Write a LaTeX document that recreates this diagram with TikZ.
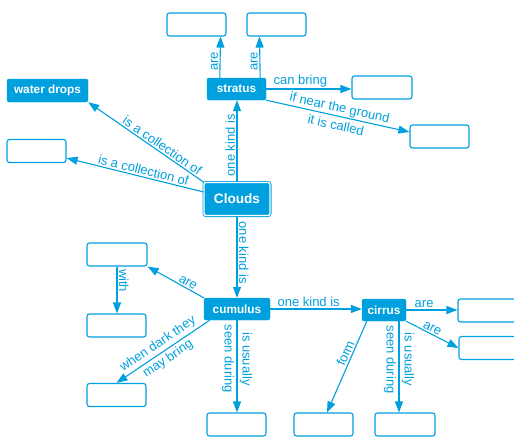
\documentclass[tikz,border=0pt]{standalone}
\usepackage{fontspec}
\setmainfont{Liberation Sans}
\usetikzlibrary{arrows.meta,calc}
\definecolor{cb}{RGB}{0,160,222}
\begin{document}
\begin{tikzpicture}[x=1pt,y=-1pt,
 ebox/.style={draw=cb, line width=1.1pt, rounded corners=2.5pt, fill=white, minimum width=59pt, minimum height=23pt, inner sep=0pt},
 fbox/.style={draw=cb, fill=cb, rounded corners=2pt, text=white, font=\fontsize{11.8}{14}\selectfont\bfseries, inner sep=0pt},
 arr/.style={draw=cb, line width=1.1pt, -{Triangle[length=11pt,width=8pt]}},
 lbl/.style={text=cb, font=\fontsize{13}{15}\selectfont, inner sep=1.5pt},
 lbltwo/.style={text=cb, font=\fontsize{13}{18}\selectfont, align=center, inner sep=0pt},
]
\useasboundingbox (0,0) rectangle (514,437);

% filled nodes
\node[fbox, minimum width=66pt, minimum height=33pt, line width=0.8pt, double=white, double distance=1.4pt, font=\fontsize{13.6}{16}\selectfont\bfseries] (clouds) at (237,199) {Clouds};
\node[fbox, minimum width=59pt, minimum height=22pt] (stratus) at (236.5,89) {stratus};
\node[fbox, minimum width=81pt, minimum height=23pt] (water) at (47.5,90.5) {water drops};
\node[fbox, minimum width=66pt, minimum height=22pt] (cumulus) at (237,309) {cumulus};
\node[fbox, minimum width=44pt, minimum height=22pt] (cirrus) at (384,310) {cirrus};

% empty boxes
\node[ebox] (boxL) at (36.5,151) {};
\node[ebox] (top1) at (196.5,24.5) {};
\node[ebox] (top2) at (276.5,24.5) {};
\node[ebox, minimum width=60pt] (bring) at (382,87.5) {};
\node[ebox] (ground) at (439.5,136.5) {};
\node[ebox, minimum width=60pt] (areA) at (488,310.5) {};
\node[ebox, minimum width=60pt] (areB) at (489,348) {};
\node[ebox] (botA) at (236.5,424.5) {};
\node[ebox] (botB) at (323.5,424.5) {};
\node[ebox, minimum width=60pt] (botC) at (405,424.5) {};
\node[ebox, minimum width=60pt] (clA) at (117,254.5) {};
\node[ebox] (clB) at (116.5,325.5) {};
\node[ebox] (clC) at (116.5,395) {};

\coordinate (cirS) at ($(cirrus.south)+(15,0)$);

% stratus edges
\draw[arr] ($(stratus.north west)+(13,0)$) -- ($(top1.south east)+(-6,0)$)
  node[lbl, pos=0.4, rotate=90, anchor=south] {are};
\draw[arr] ($(stratus.north east)+(-6,0)$) -- ($(top2.south west)+(13,0)$)
  node[lbl, pos=0.4, rotate=90, anchor=south] {are};
\draw[arr] (stratus.east) -- (stratus.east -| bring.west)
  node[lbl, pos=0.4, above] {can bring};
\draw[arr] (stratus.south east) -- ($(ground.west)+(0,-4.5)$)
  node[lbltwo, midway, sloped] {if near the ground\\it is called};

% clouds edges
\draw[arr] (clouds.north) -- (clouds.north |- stratus.south)
  node[lbl, pos=0.45, rotate=90, anchor=south] {one kind is};
\draw[arr] (clouds.north west) -- (water.south east)
  node[lbl, pos=0.39, sloped, above] {is a collection of};
\draw[arr] ($(clouds.west)+(0,-7)$) -- ($(boxL.south east)+(0,-5)$)
  node[lbl, pos=0.45, sloped, above] {is a collection of};
\draw[arr] (clouds.south) -- (clouds.south |- cumulus.north)
  node[lbl, pos=0.45, rotate=-90, anchor=south] {one kind is};

% cumulus edges
\draw[arr] (cumulus.north west) -- (clA.south east)
  node[lbl, pos=0.33, sloped, above] {are};
\draw[arr] (clA.south) -- (clA.south |- clB.north)
  node[lbl, pos=0.3, rotate=-90, anchor=south] {with};
\draw[arr] ($(cumulus.south west)+(6,0)$) -- (clC.north)
  node[lbltwo, midway, sloped] {when dark they\\may bring};
\draw[arr] (cumulus.south) -- (cumulus.south |- botA.north)
  node[lbltwo, pos=0.42, rotate=-90] {is usually\\seen during};
\draw[arr] (cumulus.east) -- (cumulus.east -| cirrus.west)
  node[lbl, pos=0.42, above] {one kind is};

% cirrus edges
\draw[arr] (cirrus.east) -- (cirrus.east -| areA.west)
  node[lbl, pos=0.35, above] {are};
\draw[arr] (cirrus.south east) -- (areB.west)
  node[lbl, pos=0.45, sloped, above] {are};
\draw[arr] ($(cirrus.south west)+(5,0)$) -- ($(botB.north)+(3.5,0)$)
  node[lbl, pos=0.38, sloped, above] {form};
\draw[arr] (cirS) -- (cirS |- botC.north)
  node[lbltwo, pos=0.42, rotate=-90] {is usually\\seen during};
\end{tikzpicture}
\end{document}
